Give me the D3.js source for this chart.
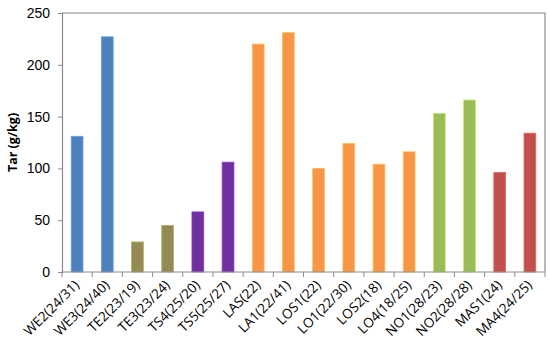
<!DOCTYPE html>
<html>
<head>
<meta charset="utf-8">
<script src="https://cdn.jsdelivr.net/npm/d3@7"></script>
<style>
  body { margin: 0; background: #fff; }
  svg { font-family: "Open Sans", "Liberation Sans", sans-serif; }
</style>
</head>
<body>
<svg width="550" height="352"></svg>
<script>
// samples and tar yield (g/kg)
const samples = ['WE2(24/31)', 'WE3(24/40)', 'TE2(23/19)', 'TE3(23/24)', 'TS4(25/20)', 'TS5(25/27)',
                 'LAS(22)', 'LA1(22/41)', 'LOS1(22)', 'LO1(22/30)', 'LOS2(18)', 'LO4(18/25)',
                 'NO1(28/23)', 'NO2(28/28)', 'MAS1(24)', 'MA4(24/25)'];
const tar = [131, 227, 29, 45, 58, 106, 220, 231, 100, 124, 104, 116, 153, 166, 96, 134];
// group of each sample -> colour
const groups = ['WE', 'WE', 'TE', 'TE', 'TS', 'TS', 'LA', 'LA', 'LA', 'LA', 'LA', 'LA', 'NO', 'NO', 'MA', 'MA'];
const yTicks = [0, 50, 100, 150, 200, 250];

const groupColor = d3.scaleOrdinal()
    .domain(['WE', 'TE', 'TS', 'LA', 'NO', 'MA'])
    .range(['#4f81bd', '#948a54', '#7030a0', '#f79646', '#9bbb59', '#c0504d']);

const svg = d3.select('svg');
const plotL = 62, plotR = 545, plotT = 13, plotB = 272;

const x = d3.scaleBand()
    .domain(samples)
    .range([plotL, plotR])
    .paddingInner(0.61)
    .paddingOuter(0.305);

const y = d3.scaleLinear()
    .domain([0, 250])
    .range([plotB, plotT]);

// plot area border (top and right)
svg.append('path')
    .attr('d', `M${plotL},${plotT}H${plotR}V${plotB}`)
    .attr('fill', 'none')
    .attr('stroke', '#8c8c8c')
    .attr('stroke-width', 1.2);

// bars
svg.append('g')
    .selectAll('rect')
    .data(tar)
    .enter()
    .append('rect')
    .attr('x', (d, i) => x(samples[i]))
    .attr('y', d => y(d))
    .attr('width', x.bandwidth())
    .attr('height', d => plotB - y(d))
    .attr('fill', (d, i) => groupColor(groups[i]))
    .attr('stroke', (d, i) => d3.color(groupColor(groups[i])).brighter(0.6))
    .attr('stroke-width', 0.8);

// y axis
const yAxis = svg.append('g')
    .attr('transform', `translate(${plotL},0)`)
    .call(d3.axisLeft(y).tickValues(yTicks).tickSize(4).tickPadding(8));
yAxis.select('.domain').attr('stroke', '#8c8c8c').attr('stroke-width', 1.2);
yAxis.selectAll('.tick line').attr('stroke', '#8c8c8c');
yAxis.selectAll('.tick text')
    .style('font-size', '14px')
    .attr('fill', '#000');

// x axis: ticks sit between the bands
const xAxis = svg.append('g')
    .attr('transform', `translate(0,${plotB})`);
xAxis.append('line')
    .attr('x1', plotL).attr('x2', plotR)
    .attr('stroke', '#8c8c8c').attr('stroke-width', 1.2);
xAxis.selectAll('line.sep')
    .data(d3.range(samples.length + 1))
    .enter()
    .append('line')
    .attr('class', 'sep')
    .attr('x1', i => plotL + i * x.step())
    .attr('x2', i => plotL + i * x.step())
    .attr('y1', 0).attr('y2', 5)
    .attr('stroke', '#8c8c8c');
xAxis.selectAll('text')
    .data(samples)
    .enter()
    .append('text')
    .attr('transform', d => `translate(${x(d) + x.bandwidth() / 2 + 3},${14}) rotate(-45)`)
    .attr('text-anchor', 'end')
    .style('font-size', '13.5px')
    .text(d => d);

// y label
svg.append('text')
    .attr('transform', `translate(17,${(plotT + plotB) / 2}) rotate(-90)`)
    .attr('text-anchor', 'middle')
    .style('font-size', '12.5px')
    .style('font-weight', 'bold')
    .text('Tar (g/kg)');
</script>
</body>
</html>
